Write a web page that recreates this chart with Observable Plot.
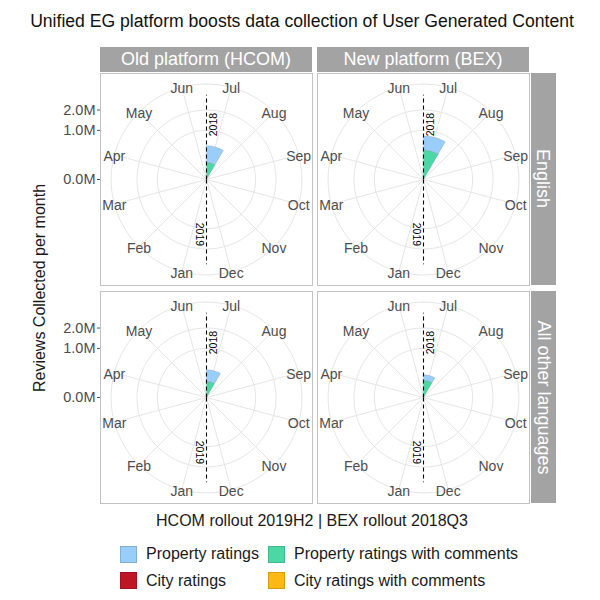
<!DOCTYPE html>
<html><head><meta charset="utf-8">
<script src="https://cdn.jsdelivr.net/npm/d3@7"></script>
<script src="https://cdn.jsdelivr.net/npm/@observablehq/plot@0.6"></script>
<style>
body{margin:0;background:#fff;}
#chart{position:relative;width:600px;height:600px;font-family:"Liberation Sans",Arial,Helvetica,sans-serif;color:#1a1a1a;overflow:hidden;background:#fff;}
.abs{position:absolute;white-space:nowrap;}
.strip{position:absolute;background:#a3a3a3;color:#fff;font-size:18px;display:flex;align-items:center;justify-content:center;white-space:nowrap;}
.panel{position:absolute;}
.panel svg{overflow:visible;}
.key{position:absolute;width:16px;height:16px;box-sizing:border-box;border:1px solid rgba(0,0,0,0.15);}
.ltext{position:absolute;font-size:16px;line-height:18px;white-space:nowrap;}
</style></head>
<body><div id="chart"></div>
<script>
// ---------- data ----------
const titleText = "Unified EG platform boosts data collection of User Generated Content";
const xTitle = "HCOM rollout 2019H2 | BEX rollout 2018Q3";
const yTitle = "Reviews Collected per month";
const months = ["Jul","Aug","Sep","Oct","Nov","Dec","Jan","Feb","Mar","Apr","May","Jun"];
const platforms = ["Old platform (HCOM)", "New platform (BEX)"];
const languages = ["English", "All other languages"];
const series = ["Property ratings", "Property ratings with comments", "City ratings", "City ratings with comments"];
const seriesColors = ["#9ACEFA", "#4CD8A5", "#BD1726", "#FDB913"];
// panels in order: English-HCOM, English-BEX, Other-HCOM, Other-BEX
const panelPlatform = [platforms[0], platforms[1], platforms[0], platforms[1]];
const panelLanguage = [languages[0], languages[0], languages[1], languages[1]];
const dataMonth = "Jul";
const propertyRatings = [350000, 430000, 212000, 94000];
const propertyRatingsWithComments = [120000, 355000, 106000, 120000];
const cityRatings = [0, 0, 0, 0];
const cityRatingsWithComments = [0, 0, 0, 0];
const yTicks = [0, 1000000, 2000000];
const yMax = 2980000;
const yearLabels = ["2018", "2019"];
const yearBoundaryMonth = ["Jul", "Jan"];
const yearLabelValue = 1250000;

// ---------- geometry helpers (polar -> cartesian in panel units) ----------
const step = 2 * Math.PI / months.length;
const rScale = d3.scaleSqrt().domain([0, yMax]).range([0, 0.4]);
const rOuter = 0.45;
const polar = (a, rr) => ({x: rr * Math.sin(a), y: rr * Math.cos(a)});
const fmtM = v => d3.format(".1f")(v / 1e6) + "M";

// stacking order from centre outward
const stackOrder = [
  [series[3], cityRatingsWithComments],
  [series[2], cityRatings],
  [series[1], propertyRatingsWithComments],
  [series[0], propertyRatings]
];

function wedges(pi) {
  const out = [];
  const mi = months.indexOf(dataMonth);
  const a0 = mi * step, a1 = (mi + 1) * step;
  let cum = 0;
  for (const [name, arr] of stackOrder) {
    const v = arr[pi];
    if (v <= 0) continue;
    const r0 = rScale(cum), r1 = rScale(cum + v);
    cum += v;
    const n = 30;
    for (let k = 0; k <= n; k++) out.push({...polar(a0 + (a1 - a0) * k / n, r1), key: name, series: name});
    for (let k = n; k >= 0; k--) out.push({...polar(a0 + (a1 - a0) * k / n, r0), key: name, series: name});
  }
  return out;
}

const circleRadii = [...yTicks.map(v => rScale(v)), rOuter];
const circles = [];
circleRadii.forEach((rr, j) => { for (let k = 0; k <= 120; k++) circles.push({...polar(k / 120 * 2 * Math.PI, rr), k: j}); });
const spokes = months.map((m, i) => { const p = polar((i + 0.5) * step, rOuter); return {x1: 0, y1: 0, x2: p.x, y2: p.y}; });
const monthLabels = months.map((m, i) => ({...polar((i + 0.5) * step, rOuter), label: m}));
const dashLines = yearBoundaryMonth.map(m => { const p = polar(months.indexOf(m) * step, rScale(yMax)); return {x1: 0, y1: 0, x2: p.x, y2: p.y}; });
const yearText = yearLabels.map((l, i) => ({...polar(months.indexOf(yearBoundaryMonth[i]) * step, rScale(yearLabelValue)), label: l}));
const tickPos = yTicks.map(v => rScale(v));
const tickLab = new Map(yTicks.map(v => [rScale(v), fmtM(v)]));

const P = 212;
function panelPlot(pi, withAxis) {
  const ml = withAxis ? 50 : 0;
  const marks = [
    Plot.line(circles, {x: "x", y: "y", z: "k", stroke: "#e2e2e2", strokeWidth: 0.9}),
    Plot.link(spokes, {x1: "x1", y1: "y1", x2: "x2", y2: "y2", stroke: "#e2e2e2", strokeWidth: 0.9}),
    Plot.line(wedges(pi), {x: "x", y: "y", z: "key", fill: "series", stroke: "#6b7f8c", strokeOpacity: 0.45, strokeWidth: 0.6, curve: "linear-closed"}),
    Plot.link(dashLines, {x1: "x1", y1: "y1", x2: "x2", y2: "y2", stroke: "#000", strokeWidth: 1.1, strokeDasharray: "4,3"}),
    Plot.text([yearText[0]], {x: "x", y: "y", text: "label", rotate: -90, dx: 7, fontSize: 10.5, fill: "#000"}),
    Plot.text([yearText[1]], {x: "x", y: "y", text: "label", rotate: 90, dx: -7, fontSize: 10.5, fill: "#000"}),
    Plot.text(monthLabels, {x: "x", y: "y", text: "label", fontSize: 14, fill: "#4d4d4d", dy: 1.5}),
    Plot.frame({stroke: "#c2c2c2", strokeWidth: 1})
  ];
  if (withAxis) marks.push(Plot.axisY({ticks: tickPos, tickFormat: d => tickLab.get(d), tickSize: 3, tickPadding: 2, fontSize: 14.5, color: "#4d4d4d", label: null}));
  return Plot.plot({
    width: P + ml, height: P,
    marginLeft: ml, marginRight: 0, marginTop: 0, marginBottom: 0,
    x: {domain: [-0.5, 0.5], axis: null},
    y: {domain: [-0.5, 0.5], axis: null},
    color: {domain: series, range: seriesColors},
    style: {fontFamily: "'Liberation Sans', Arial, Helvetica, sans-serif", background: "transparent", overflow: "visible"},
    marks
  });
}

// ---------- layout ----------
const chart = document.getElementById("chart");
const colLeft = [100, 317];
const rowTop = [72.5, 291];
function add(el, css) { Object.assign(el.style, css); chart.appendChild(el); return el; }

// title
const t = document.createElement("div"); t.className = "abs"; t.textContent = titleText;
add(t, {left: "0px", width: "604px", textAlign: "center", top: "11px", fontSize: "17.6px", color: "#111"});

// strips
platforms.forEach((p, j) => {
  const s = document.createElement("div"); s.className = "strip"; s.textContent = p;
  add(s, {left: colLeft[j] + "px", top: "46.5px", width: P + "px", height: "25.5px"});
});
languages.forEach((l, i) => {
  const s = document.createElement("div"); s.className = "strip";
  const inner = document.createElement("span"); inner.textContent = l; inner.style.transform = "rotate(90deg)"; inner.style.display = "inline-block";
  s.appendChild(inner);
  add(s, {left: "530.5px", top: rowTop[i] + "px", width: "25px", height: P + "px"});
});

// panels
for (let pi = 0; pi < 4; pi++) {
  const j = platforms.indexOf(panelPlatform[pi]);
  const i = languages.indexOf(panelLanguage[pi]);
  const withAxis = j === 0;
  const d = document.createElement("div"); d.className = "panel";
  d.appendChild(panelPlot(pi, withAxis));
  add(d, {left: (colLeft[j] - (withAxis ? 50 : 0)) + "px", top: rowTop[i] + "px"});
}

// axis titles
const yt = document.createElement("div"); yt.className = "abs"; yt.textContent = yTitle;
add(yt, {left: "40px", top: "288px", fontSize: "16px", transform: "translate(-50%,-50%) rotate(-90deg)"});
const xt = document.createElement("div"); xt.className = "abs"; xt.textContent = xTitle;
add(xt, {left: "312px", top: "521px", fontSize: "16px", transform: "translate(-50%,-50%)"});

// legend (2 x 2)
const legX = [120, 268];
const legY = [545.5, 572];
series.forEach((s, k) => {
  const row = Math.floor(k / 2), col = k % 2;
  const key = document.createElement("div"); key.className = "key";
  add(key, {left: legX[col] + "px", top: legY[row] + "px", width: "17px", height: "17px", background: seriesColors[k]});
  const tx = document.createElement("div"); tx.className = "ltext"; tx.textContent = s;
  add(tx, {left: (legX[col] + 26) + "px", top: (legY[row] - 0.5) + "px"});
});
</script></body></html>
